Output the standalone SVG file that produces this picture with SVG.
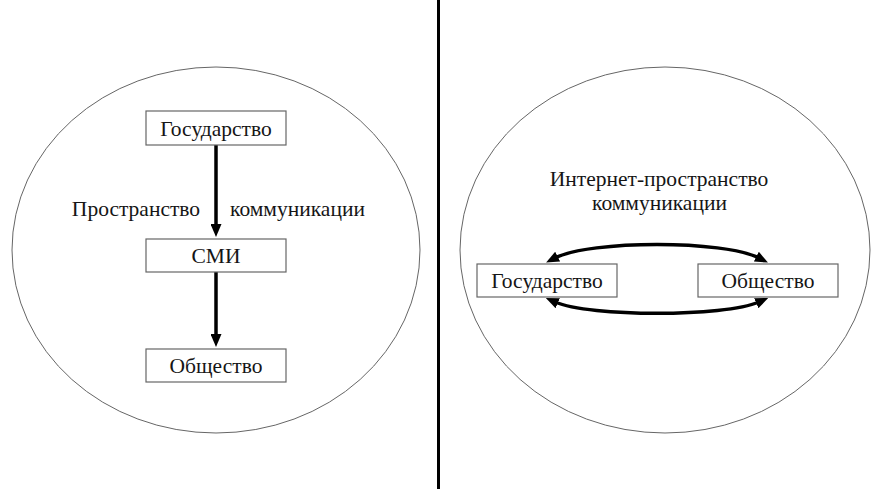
<svg xmlns="http://www.w3.org/2000/svg" width="877" height="489" viewBox="0 0 877 489">
<style>
.bg{fill:#fff}
.ell{fill:none;stroke:#666;stroke-width:1}
.box{fill:#fff;stroke:#666;stroke-width:1.2}
.t{font-family:'Liberation Serif','DejaVu Serif',serif;font-size:21.5px;fill:#151515;text-anchor:middle}
.arr{fill:none;stroke:#000;stroke-width:3.5}
</style>
<defs>
<marker id="ah" markerUnits="userSpaceOnUse" markerWidth="13" markerHeight="11" viewBox="0 0 13 11" refX="3" refY="5.5" orient="auto-start-reverse">
<path d="M0,0 L13,5.5 L0,11 z" fill="#000"/>
</marker>
</defs>
<rect class="bg" x="0" y="0" width="877" height="489"/>
<line x1="438.5" y1="0" x2="438.5" y2="489" stroke="#000" stroke-width="3"/>
<ellipse class="ell" cx="216" cy="250" rx="204" ry="183"/>
<ellipse class="ell" cx="665" cy="250" rx="205" ry="183"/>
<g id="connectors">
<line class="arr" x1="216" y1="145" x2="216" y2="227" marker-end="url(#ah)"/>
<line class="arr" x1="216" y1="272" x2="216" y2="337" marker-end="url(#ah)"/>
<path class="arr" d="M555,258 C590,240 724,240 759,258" marker-start="url(#ah)" marker-end="url(#ah)"/>
<path class="arr" d="M555,302 C590,317 724,317 759,302" marker-start="url(#ah)" marker-end="url(#ah)"/>
</g>
<g id="label-left">
<text class="t" x="136" y="216">Пространство</text>
<text class="t" x="297.5" y="216">коммуникации</text>
</g>
<g id="label-right">
<text class="t" x="659" y="186">Интернет-пространство</text>
<text class="t" x="659.5" y="210">коммуникации</text>
</g>
<g id="node-gos-left">
<rect class="box" x="146" y="111" width="140" height="34"/>
<text class="t" x="216" y="136">Государство</text>
</g>
<g id="node-smi">
<rect class="box" x="146" y="239" width="140" height="33"/>
<text class="t" x="216" y="263">СМИ</text>
</g>
<g id="node-obsh-left">
<rect class="box" x="146" y="349" width="140" height="33"/>
<text class="t" x="216" y="373">Общество</text>
</g>
<g id="node-gos-right">
<rect class="box" x="477" y="264" width="140" height="33"/>
<text class="t" x="547" y="288">Государство</text>
</g>
<g id="node-obsh-right">
<rect class="box" x="698" y="264" width="140" height="33"/>
<text class="t" x="768" y="288">Общество</text>
</g>
</svg>
